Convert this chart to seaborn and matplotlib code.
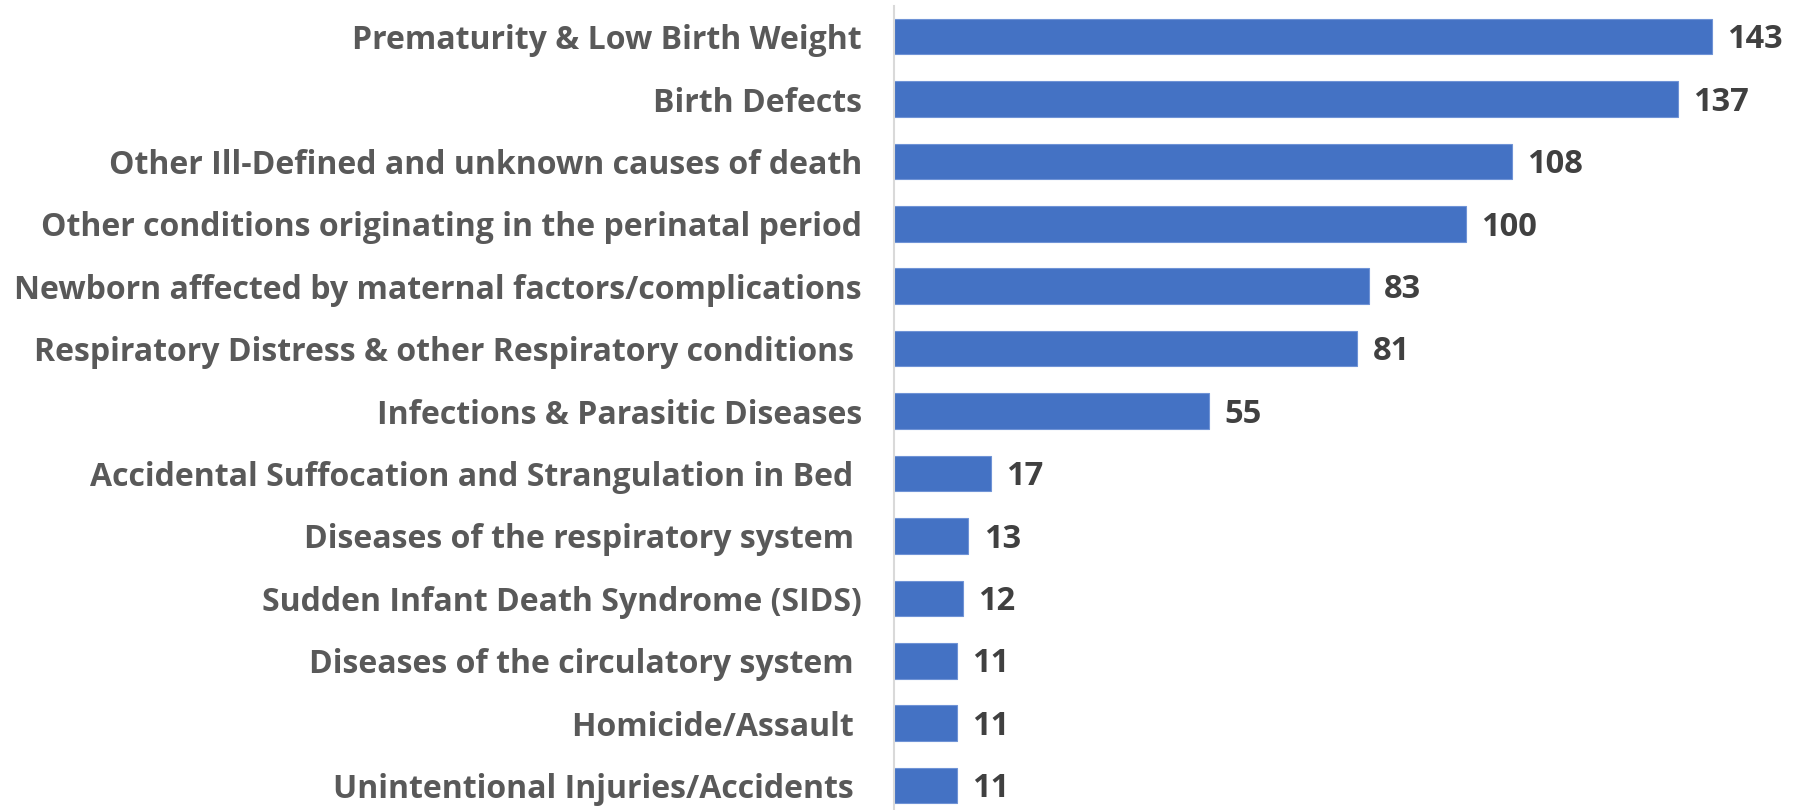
import numpy as np
import pandas as pd
import matplotlib
matplotlib.use("Agg")
import matplotlib.pyplot as plt
import seaborn as sns

# infant death causes
causes = [
    "Prematurity & Low Birth Weight",
    "Birth Defects",
    "Other Ill-Defined and unknown causes of death",
    "Other conditions originating in the perinatal period",
    "Newborn affected by maternal factors/complications",
    "Respiratory Distress & other Respiratory conditions ",
    "Infections & Parasitic Diseases",
    "Accidental Suffocation and Strangulation in Bed ",
    "Diseases of the respiratory system ",
    "Sudden Infant Death Syndrome (SIDS)",
    "Diseases of the circulatory system ",
    "Homicide/Assault ",
    "Unintentional Injuries/Accidents ",
]
deaths = [143, 137, 108, 100, 83, 81, 55, 17, 13, 12, 11, 11, 11]

df = pd.DataFrame({"cause": causes, "deaths": deaths})

sns.set_style("white")
plt.rcParams["font.family"] = ["Open Sans", "DejaVu Sans"]
plt.rcParams["font.weight"] = "bold"

fig = plt.figure(figsize=(17.98, 8.10), dpi=100)
ax = fig.add_axes([894 / 1798, 0, 904 / 1798, 804 / 810])

sns.barplot(data=df, x="deaths", y="cause", orient="h", color="#4472C4",
            saturation=1, width=0.57, edgecolor="#6f93d6", linewidth=0.8, ax=ax)

# value labels, baseline dropped so the digits sit centred on the bar
for i, v in enumerate(deaths):
    ax.annotate(str(v), xy=(v, i), xytext=(11, -8.4), textcoords="offset points",
                va="baseline", ha="left", fontsize=23.5, fontweight="bold",
                color="#404040")

ax.set_xlim(0, 158)
ax.set_ylim(12.39, -0.49)
ax.set_xlabel("")
ax.set_ylabel("")
ax.set_xticks([])
ax.tick_params(axis="y", length=0, pad=23, labelsize=23, labelcolor="#595959")
for lbl in ax.get_yticklabels():
    lbl.set_fontweight("bold")

for s in ["top", "right", "bottom"]:
    ax.spines[s].set_visible(False)
ax.spines["left"].set_color("#d9d9d9")
ax.spines["left"].set_linewidth(1.5)

fig.savefig("out.png", dpi=100)
